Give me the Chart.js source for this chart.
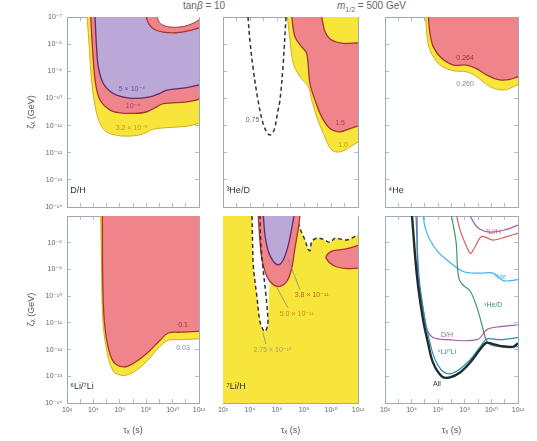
<!DOCTYPE html>
<html>
<head>
<meta charset="utf-8">
<script src="https://cdn.jsdelivr.net/npm/chart.js@4.4.1/dist/chart.umd.min.js"></script>
<style>
  body { margin: 0; width: 537px; height: 441px; background: #fff; position: relative; overflow: hidden;
         font-family: "Liberation Sans", "DejaVu Sans", Arial, sans-serif; }
  .t { position: absolute; top: 0; line-height: 11px; font-size: 10px; color: #666; white-space: nowrap; }
  .t sub { font-size: 7px; line-height: 0; }
</style>
</head>
<body>
<div class="t" style="left:183px">tan<i>β</i> = 10</div>
<div class="t" style="left:337px"><i>m</i><sub>1/2</sub> = 500 GeV</div>
<script>
// axes: exponents of tau_X (s) and zeta_X (GeV)
const tauTicks = [2, 3, 4, 5, 6, 7, 8, 9, 10, 11, 12];
const tauLabels = ["10²", "", "10⁴", "", "10⁶", "", "10⁸", "", "10¹⁰", "", "10¹²"];
const zetaTicks = [-7, -8, -9, -10, -11, -12, -13, -14];
const zetaLabels = ["10⁻⁷", "10⁻⁸", "10⁻⁹", "10⁻¹⁰", "10⁻¹¹", "10⁻¹²", "10⁻¹³", "10⁻¹⁴"];

// contours, each point = [log10 tau, log10 zeta]
// D/H
const dhYellow = [[3.52,-7],[3.7,-8.2],[3.85,-9.3],[4.1,-10.2],[4.4,-10.8],[4.9,-11.2],[5.76,-11.36],[7.0,-11.38],[7.8,-11.3],[8.5,-11.14],[9.5,-11.08],[11,-11.03],[12,-10.92]];
const dhPink = [[3.8,-7],[3.95,-8.3],[4.15,-9.4],[4.5,-10.06],[5.26,-10.43],[6,-10.53],[7,-10.55],[8,-10.5],[8.8,-10.31],[9.3,-10.19],[11.07,-10.13],[12,-10.03]];
const dhPurple = [[4.12,-7],[4.25,-8.2],[4.37,-8.83],[4.75,-9.45],[5.5,-9.82],[6.3,-9.95],[7.0,-10.0],[8.29,-9.94],[9.0,-9.82],[9.55,-9.69],[11.07,-9.6],[12,-9.5]];
const dhRing = [[8.0,-7],[8.2,-7.25],[8.6,-7.45],[9.3,-7.56],[10.3,-7.58],[11.3,-7.5],[12,-7.4]];
const dhHole = [[8.8,-7],[9.1,-7.25],[9.8,-7.37],[10.8,-7.35],[11.6,-7.22],[12,-7.1]];
// 3He/D
const he3Yellow = [[6.77,-7],[6.96,-7.85],[7.21,-8.71],[7.7,-9.2],[8.32,-9.57],[8.57,-10.06],[8.94,-10.68],[9.43,-11.29],[10.05,-11.9],[10.67,-11.97],[11.41,-11.79],[12,-11.6]];
const he3Pink = [[7.09,-7],[7.33,-7.73],[7.83,-8.1],[8.2,-8.34],[8.44,-9.45],[8.81,-10.06],[9.31,-10.68],[9.93,-11.11],[10.67,-11.23],[11.41,-11.11],[12,-11.02]];
const he3Inner = [[9.31,-7],[9.56,-7.54],[10.05,-7.85],[10.91,-7.97],[12,-7.95]];
const he3Dashed = [[3.85,-7],[4.0,-7.9],[4.22,-8.85],[4.59,-10.06],[4.96,-10.91],[5.25,-11.25],[5.48,-11.35],[5.7,-11.25],[5.85,-11.06],[6.05,-10.5],[6.22,-10.06],[6.44,-8.85],[6.67,-7]];
// 4He
const he4Yellow = [[5.06,-7],[5.13,-7.6],[5.38,-8.22],[6.14,-8.77],[7.14,-8.98],[8.14,-9.02],[8.89,-9.2],[9.9,-9.57],[10.9,-9.69],[12,-9.5]];
const he4Pink = [[5.26,-7],[5.38,-7.6],[5.63,-8.1],[6.26,-8.52],[7.14,-8.77],[8.14,-8.77],[8.89,-8.9],[9.65,-9.14],[10.65,-9.32],[11.4,-9.3],[12,-9.2]];
// 6Li/7Li
const li6Yellow = [[4.55,-7],[4.63,-9.26],[4.7,-10.76],[4.95,-11.88],[5.5,-12.81],[6.27,-12.97],[7.02,-12.85],[8.04,-12.44],[9.05,-11.88],[9.67,-11.65],[10.56,-11.63],[12,-11.6]];
const li6Pink = [[4.68,-7],[4.7,-9.26],[4.8,-10.76],[5.05,-11.75],[5.5,-12.44],[6.27,-12.65],[7.02,-12.52],[8.04,-12.15],[9.05,-11.65],[9.67,-11.38],[10.56,-11.35],[12,-11.32]];
// 7Li/H
const li7Floor = [[2,-14],[12,-14]];
const li7WhiteTop = [[7.46,-7],[7.7,-7.46],[8.07,-7.9],[8.32,-8.25],[8.45,-8.3],[8.57,-7.96],[8.94,-7.83],[9.3,-7.85],[9.93,-7.98],[10.3,-7.83],[11.16,-7.9],[12,-7.7]];
const li7Finger = [[4.15,-7],[4.2,-8.2],[4.25,-8.9],[4.52,-10.06],[4.74,-10.96],[4.96,-11.25],[5.11,-11.33],[5.28,-11.15],[5.33,-10.9],[5.2,-10.06],[4.95,-8.9],[4.8,-8.0],[4.74,-7]];
const li7FingerFill = [[4.15,-7],[4.2,-8.2],[4.25,-8.9],[4.52,-10.06],[4.74,-10.96],[4.96,-11.25],[5.11,-11.33],[5.28,-11.15],[5.33,-10.9],[5.38,-10.4],[5.45,-9.6],[5.7,-9.2],[6.2,-8.4],[6.6,-7]];
const li7Pink = [[4.61,-7],[4.74,-7.96],[4.87,-8.58],[5.11,-9.08],[5.48,-9.45],[6.1,-9.64],[6.72,-9.45],[7.09,-8.95],[7.33,-8.2],[7.58,-7.46],[7.7,-7]];
const li7Purple = [[4.99,-7],[5.11,-7.71],[5.36,-8.33],[5.73,-8.7],[6.1,-8.83],[6.47,-8.64],[6.84,-8.08],[7.09,-7.46],[7.26,-7]];
const li7BlobTop = [[9.6,-8.55],[9.8,-8.4],[10.2,-8.3],[11.2,-8.22],[12,-8.1]];
const li7BlobBottom = [[9.6,-8.55],[9.9,-8.75],[10.4,-8.9],[11.2,-8.97],[12,-8.95]];
const li7Lead1 = [[7.7,-9.76],[6.81,-8.6]];
const li7Lead2 = [[6.81,-10.43],[5.93,-9.62]];
const li7Lead3 = [[5.19,-11.8],[4.95,-11.36]];
// all constraints
const allBlack = [[4.03,-7],[4.41,-9.28],[4.86,-10.88],[5.23,-11.74],[5.61,-12.49],[6.29,-13.01],[6.89,-13.04],[7.64,-12.86],[8.39,-12.49],[9.14,-12.0],[9.6,-11.75],[10.0,-11.78],[10.65,-11.86],[11.62,-11.9],[12,-11.76]];
const allDH = [[4.41,-7],[4.48,-9.28],[4.86,-10.5],[5.16,-11.25],[5.61,-11.55],[6.66,-11.63],[8.92,-11.63],[9.67,-11.25],[10.65,-11.14],[12,-11.07]];
const allDHTop = [[8.39,-7],[9.0,-7.45],[9.9,-7.6],[11.02,-7.52],[12,-7.34]];
const allHe3 = [[7.0,-7],[7.35,-8.0],[7.46,-9.0],[7.6,-9.4],[7.9,-9.6],[8.39,-9.8],[8.9,-10.4],[9.3,-11.1],[9.6,-11.63],[9.9,-11.81],[10.65,-11.89],[12,-11.89]];
const allHe4 = [[4.88,-7],[5.0,-7.4],[5.38,-7.9],[6.0,-8.35],[6.64,-8.64],[7.89,-9.08],[9.14,-9.14],[10.14,-9.14],[10.89,-9.42],[12,-9.38]];
const allLi6 = [[4.33,-7],[4.56,-9.28],[5.01,-10.88],[5.38,-11.74],[5.76,-12.37],[6.36,-12.82],[6.96,-12.9],[7.71,-12.7],[8.47,-12.34],[9.22,-11.85],[9.67,-11.6],[10.65,-11.63],[12,-11.55]];
const allLi7 = [[7.39,-7],[7.64,-7.52],[8.14,-8.15],[8.44,-8.4],[8.77,-8.15],[9.27,-7.77],[10.14,-7.9],[11.15,-7.77],[12,-7.65]];

const F = '"Liberation Sans", "DejaVu Sans", Arial, sans-serif';
const FRAME = "#9aabbc";
const INK = "#666";
const YEL = "#f7e53b", YEL_L = "#d6ad1c";
const PINK = "#ef858a", PINK_L = "#a8342c";
const PURP = "#bba7d8", PURP_L = "#5b2d70";
const M = 14; // margin kept round every plot area so tick labels never push it

function pts(a) {
  return a.map(function (p) { return { x: Math.pow(10, p[0]), y: Math.pow(10, p[1]) }; });
}
function region(a, bg, border, extra) {
  return Object.assign({ data: pts(a), fill: "end", backgroundColor: bg, borderColor: border,
    borderWidth: 1, pointRadius: 0, tension: 0.35 }, extra || {});
}
function curve(a, color, width, extra) {
  return Object.assign({ data: pts(a), fill: false, borderColor: color, borderWidth: width,
    pointRadius: 0, tension: 0.35 }, extra || {});
}
function label(v, ticks, labels) {
  var i = ticks.indexOf(Math.round(Math.log10(v)));
  return i < 0 ? "" : labels[i];
}

function notesPlugin(items) {
  return {
    id: "notes",
    afterDatasetsDraw: function (chart) {
      var ctx = chart.ctx, x = chart.scales.x, y = chart.scales.y;
      ctx.save();
      items.forEach(function (n) {
        ctx.font = (n.s || 7) + "px " + F;
        ctx.fillStyle = n.c || "#333";
        ctx.textAlign = n.a || "center";
        ctx.textBaseline = "middle";
        ctx.fillText(n.t, x.getPixelForValue(Math.pow(10, n.at[0])), y.getPixelForValue(Math.pow(10, n.at[1])));
      });
      ctx.restore();
    }
  };
}

function panel(box, datasets, notes, o) {
  var yw = o.yLabels ? 67 : M;
  var xh = o.xLabels ? 38 : M;
  var W = box.r - box.l + yw + M, H = box.b - box.t + M + xh;
  var cv = document.createElement("canvas");
  cv.width = W; cv.height = H;
  cv.style.cssText = "position:absolute;left:" + (box.l - yw) + "px;top:" + (box.t - M) + "px;width:" + W + "px;height:" + H + "px";
  document.body.appendChild(cv);
  datasets.forEach(function (d, i) { d.order = datasets.length - i; });

  var grid = { drawOnChartArea: false, drawTicks: true, tickLength: -4, color: FRAME, lineWidth: 0.8 };
  var border = { display: true, color: FRAME, width: 1 };
  var tauT = function (s) { s.ticks = tauTicks.map(function (e) { return { value: Math.pow(10, e) }; }); };
  var zetaT = function (s) { s.ticks = zetaTicks.map(function (e) { return { value: Math.pow(10, e) }; }); };
  var yl = o.bottomRow ? zetaLabels.map(function (t, i) { return i === 0 ? "" : t; }) : zetaLabels;

  new Chart(cv, {
    type: "line",
    data: { datasets: datasets },
    options: {
      responsive: false,
      animation: false,
      devicePixelRatio: 1,
      events: [],
      layout: { autoPadding: false, padding: { top: M, right: M, left: 0, bottom: 0 } },
      plugins: { legend: { display: false }, tooltip: { enabled: false } },
      scales: {
        x: {
          type: "logarithmic", position: "bottom", min: 1e2, max: 1e12,
          afterBuildTicks: tauT, afterFit: function (s) { s.height = xh; },
          grid: grid, border: border,
          ticks: { display: o.xLabels, autoSkip: false, maxRotation: 0, padding: 7, color: INK,
            font: { family: F, size: 7 }, callback: function (v) { return label(v, tauTicks, tauLabels); } },
          title: { display: o.xLabels, text: "τₓ (s)", color: "#555", font: { family: F, size: 9 },
            padding: { top: 0, bottom: 5 } }
        },
        y: {
          type: "logarithmic", position: "left", min: Math.pow(10, -14), max: Math.pow(10, -7),
          afterBuildTicks: zetaT, afterFit: function (s) { s.width = yw; },
          grid: grid, border: border,
          ticks: { display: o.yLabels, autoSkip: false, padding: 9, color: INK,
            font: { family: F, size: 7 }, callback: function (v) { return label(v, zetaTicks, yl); } },
          title: { display: o.yLabels, text: "ζₓ (GeV)", color: "#555", font: { family: F, size: 9 },
            padding: { top: 26, bottom: 0 } }
        },
        x2: {
          type: "logarithmic", position: "top", min: 1e2, max: 1e12,
          afterBuildTicks: tauT, afterFit: function (s) { s.height = 0; },
          grid: grid, border: border, ticks: { display: false }
        },
        y2: {
          type: "logarithmic", position: "right", min: Math.pow(10, -14), max: Math.pow(10, -7),
          afterBuildTicks: zetaT, afterFit: function (s) { s.width = 0; },
          grid: grid, border: border, ticks: { display: false }
        }
      }
    },
    plugins: [notesPlugin(notes)]
  });
}

var rowTop = { t: 17, b: 207 }, rowBot = { t: 216, b: 403 };
var c0 = { l: 67, r: 199 }, c1 = { l: 223, r: 358 }, c2 = { l: 385, r: 518 };
function box(c, r) { return { l: c.l, r: c.r, t: r.t, b: r.b }; }
var dash = [4, 3];

// D/H
panel(box(c0, rowTop), [
  region(dhYellow, YEL, YEL_L),
  region(dhPink, PINK, PINK_L, { borderWidth: 1.3 }),
  region(dhPurple, PURP, PURP_L, { borderWidth: 1.3 }),
  region(dhRing, PINK, PINK_L, { borderWidth: 1.3 }),
  region(dhHole, "#ffffff", PINK_L, { borderWidth: 1 })
], [
  { t: "5 × 10⁻⁴", at: [6.92, -9.66], c: "#6a4fa8" },
  { t: "10⁻⁴", at: [7.0, -10.28], c: "#c0306a" },
  { t: "3.2 × 10⁻⁵", at: [6.9, -11.1], c: "#b9981a" },
  { t: "D/H", at: [2.25, -13.4], c: "#333", s: 9, a: "left" }
], { yLabels: true, xLabels: false });

// 3He/D
panel(box(c1, rowTop), [
  region(he3Yellow, YEL, YEL_L),
  region(he3Pink, PINK, PINK_L, { borderWidth: 1.3 }),
  region(he3Inner, YEL, PINK_L, { borderWidth: 1.3 }),
  curve(he3Dashed, "#333", 1.5, { borderDash: dash })
], [
  { t: "0.75", at: [4.19, -10.8], c: "#666" },
  { t: "1.5", at: [10.67, -10.9], c: "#c0306a" },
  { t: "1.0", at: [10.9, -11.72], c: "#b9981a" },
  { t: "³He/D", at: [2.25, -13.4], c: "#333", s: 9, a: "left" }
], { yLabels: false, xLabels: false });

// 4He
panel(box(c2, rowTop), [
  region(he4Yellow, YEL, YEL_L),
  region(he4Pink, PINK, PINK_L, { borderWidth: 1.3 })
], [
  { t: "0.264", at: [8.02, -8.51], c: PINK_L },
  { t: "0.260", at: [8.02, -9.47], c: "#8a8a8a" },
  { t: "⁴He", at: [2.25, -13.4], c: "#333", s: 9, a: "left" }
], { yLabels: false, xLabels: false });

// 6Li/7Li
panel(box(c0, rowBot), [
  region(li6Yellow, YEL, YEL_L),
  region(li6Pink, PINK, PINK_L, { borderWidth: 1.3 })
], [
  { t: "0.1", at: [10.79, -11.07], c: "#b0302a" },
  { t: "0.03", at: [10.79, -11.93], c: "#7d8bab" },
  { t: "⁶Li/⁷Li", at: [2.25, -13.4], c: "#333", s: 9, a: "left" }
], { yLabels: true, xLabels: true, bottomRow: true });

// 7Li/H
panel(box(c1, rowBot), [
  region(li7Floor, YEL, "rgba(0,0,0,0)", { borderWidth: 0, tension: 0 }),
  region(li7WhiteTop, "#ffffff", "#333", { borderWidth: 1.5, borderDash: dash }),
  region(li7FingerFill, "#ffffff", "rgba(0,0,0,0)", { borderWidth: 0 }),
  region(li7Pink, PINK, PINK_L, { borderWidth: 1.3 }),
  region(li7Purple, PURP, PURP_L, { borderWidth: 1.3 }),
  curve(li7BlobTop, PINK_L, 1.3, { fill: { target: "+1" }, backgroundColor: PINK }),
  curve(li7BlobBottom, PINK_L, 1.3),
  curve(li7Finger, "#333", 1.5, { borderDash: dash }),
  curve(li7Lead1, "#8a8a8a", 0.8, { tension: 0 }),
  curve(li7Lead2, "#8a8a8a", 0.8, { tension: 0 }),
  curve(li7Lead3, "#8a8a8a", 0.8, { tension: 0 })
], [
  { t: "3.8 × 10⁻¹¹", at: [8.57, -9.95], c: "#b8681a" },
  { t: "5.0 × 10⁻¹¹", at: [7.46, -10.66], c: "#d9870e" },
  { t: "2.75 × 10⁻¹⁰", at: [5.67, -12.0], c: "#a59f6c" },
  { t: "⁷Li/H", at: [2.25, -13.4], c: "#333", s: 9, a: "left" }
], { yLabels: false, xLabels: true, bottomRow: true });

// all constraints
panel(box(c2, rowBot), [
  curve(allLi7, "#d85c66", 1.2),
  curve(allHe4, "#41b6e6", 1.2),
  curve(allHe3, "#3b9a62", 1.2),
  curve(allDH, "#a25aa8", 1.2),
  curve(allDHTop, "#a25aa8", 1.2),
  curve(allLi6, "#2c8ea8", 1.2),
  curve(allBlack, "#1d2b33", 2.4)
], [
  { t: "⁷Li/H", at: [10.14, -7.6], c: "#d85c66" },
  { t: "⁴He", at: [10.65, -9.3], c: "#41b6e6" },
  { t: "³He/D", at: [10.14, -10.32], c: "#3b9a62" },
  { t: "D/H", at: [6.66, -11.44], c: "#a25aa8" },
  { t: "⁶Li/⁷Li", at: [6.66, -12.1], c: "#2c8ea8" },
  { t: "All", at: [5.9, -13.3], c: "#1d2b33" }
], { yLabels: false, xLabels: true, bottomRow: true });
</script>
</body>
</html>
